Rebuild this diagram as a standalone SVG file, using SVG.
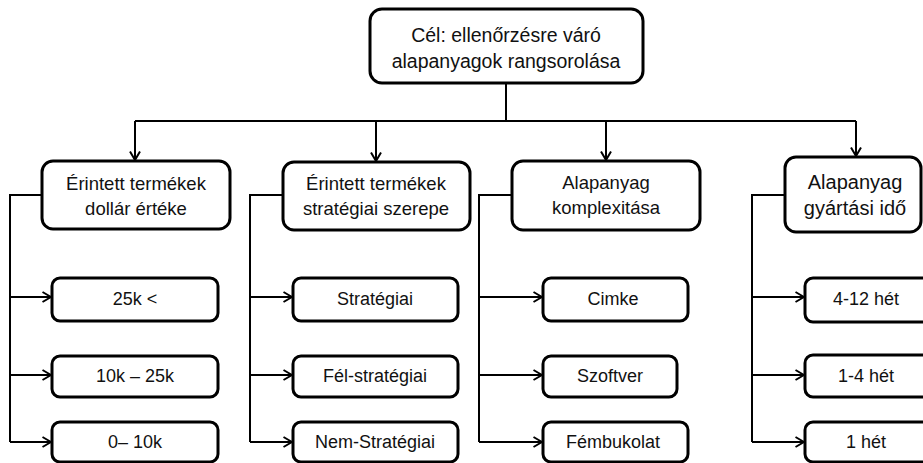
<svg xmlns="http://www.w3.org/2000/svg" width="923" height="463" viewBox="0 0 923 463">
<defs>
<marker id="ah" viewBox="0 0 10 12" refX="9.5" refY="6" markerWidth="10" markerHeight="12" markerUnits="userSpaceOnUse" orient="auto">
<path d="M1,1 L9.5,6 L1,11" fill="none" stroke="#000" stroke-width="2"/>
</marker>
<style>
.box{fill:#fff;stroke:#000;stroke-width:3}
.t{font-family:"Liberation Sans",Arial,sans-serif;fill:#111;text-anchor:middle}
.big{font-size:19.5px}
.mid{font-size:18.5px}
.c4{font-size:20px}
.sm{font-size:18px}
.ln{fill:none;stroke:#000;stroke-width:2}
.ar{fill:none;stroke:#000;stroke-width:2;marker-end:url(#ah)}
</style>
</defs>
<rect width="923" height="463" fill="#fff"/>
<g id="connectors">
<path class="ln" d="M506,83 V121 M135,121 H856"/>
<path class="ar" d="M135,121 V160"/>
<path class="ar" d="M376,121 V161"/>
<path class="ar" d="M606,121 V160"/>
<path class="ar" d="M856,121 V156"/>
<path class="ln" d="M42,195 H10 V442"/>
<path class="ar" d="M10,297 H51"/>
<path class="ar" d="M10,375 H51"/>
<path class="ar" d="M10,442 H51"/>
<path class="ln" d="M283,195 H250 V442"/>
<path class="ar" d="M250,297 H292"/>
<path class="ar" d="M250,375 H292"/>
<path class="ar" d="M250,442 H292"/>
<path class="ln" d="M512,195 H479 V442"/>
<path class="ar" d="M479,297 H542"/>
<path class="ar" d="M479,375 H542"/>
<path class="ar" d="M479,442 H542"/>
<path class="ln" d="M785,195 H752 V442"/>
<path class="ar" d="M752,297 H804"/>
<path class="ar" d="M752,375 H804"/>
<path class="ar" d="M752,442 H804"/>
</g>
<g id="goal">
<rect class="box" x="370" y="9" width="273" height="74" rx="12"/>
<text class="t big" x="506" y="42">Cél: ellenőrzésre váró</text>
<text class="t big" x="506" y="68">alapanyagok rangsorolása</text>
</g>
<g id="cat1">
<rect class="box" x="42" y="161" width="188" height="68" rx="11"/>
<text class="t mid" x="136" y="190">Érintett termékek</text>
<text class="t mid" x="136" y="215">dollár értéke</text>
</g>
<g id="cat2">
<rect class="box" x="283" y="162" width="187" height="68" rx="11"/>
<text class="t mid" x="376" y="190">Érintett termékek</text>
<text class="t mid" x="376" y="215">stratégiai szerepe</text>
</g>
<g id="cat3">
<rect class="box" x="512" y="161" width="188" height="69" rx="11"/>
<text class="t mid" x="606" y="189">Alapanyag</text>
<text class="t mid" x="606" y="214">komplexitása</text>
</g>
<g id="cat4">
<rect class="box" x="785" y="157" width="136" height="75" rx="11"/>
<text class="t c4" x="855" y="189">Alapanyag</text>
<text class="t c4" x="855" y="215">gyártási idő</text>
</g>
<g id="c1r1"><rect class="box" x="52" y="278" width="166" height="43" rx="8"/><text class="t sm" x="135" y="305">25k &lt;</text></g>
<g id="c1r2"><rect class="box" x="52" y="356" width="166" height="41" rx="8"/><text class="t sm" x="135" y="382">10k – 25k</text></g>
<g id="c1r3"><rect class="box" x="52" y="422" width="166" height="40" rx="8"/><text class="t sm" x="135" y="448">0– 10k</text></g>
<g id="c2r1"><rect class="box" x="293" y="278" width="165" height="43" rx="8"/><text class="t sm" x="375" y="305">Stratégiai</text></g>
<g id="c2r2"><rect class="box" x="293" y="356" width="165" height="41" rx="8"/><text class="t sm" x="375" y="382">Fél-stratégiai</text></g>
<g id="c2r3"><rect class="box" x="293" y="422" width="165" height="40" rx="8"/><text class="t sm" x="375" y="448">Nem-Stratégiai</text></g>
<g id="c3r1"><rect class="box" x="543" y="278" width="145" height="43" rx="8"/><text class="t sm" x="613" y="305">Cimke</text></g>
<g id="c3r2"><rect class="box" x="543" y="356" width="134" height="41" rx="8"/><text class="t sm" x="610" y="382">Szoftver</text></g>
<g id="c3r3"><rect class="box" x="543" y="422" width="145" height="40" rx="8"/><text class="t sm" x="613" y="448">Fémbukolat</text></g>
<g id="c4r1"><rect class="box" x="805" y="278" width="125" height="44" rx="8"/><text class="t sm" x="866" y="305">4-12 hét</text></g>
<g id="c4r2"><rect class="box" x="805" y="355" width="125" height="42" rx="8"/><text class="t sm" x="866" y="382">1-4 hét</text></g>
<g id="c4r3"><rect class="box" x="805" y="422" width="125" height="40" rx="8"/><text class="t sm" x="866" y="448">1 hét</text></g>
</svg>
